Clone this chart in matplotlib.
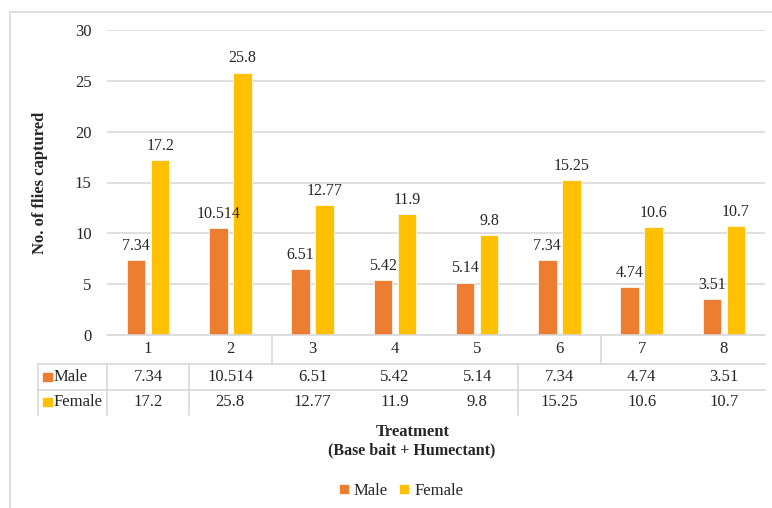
import matplotlib
matplotlib.use("Agg")
import matplotlib.pyplot as plt
import matplotlib.transforms as mtransforms
from matplotlib.lines import Line2D
from matplotlib.patches import Rectangle
import numpy as np

plt.rcParams['font.family'] = ['Liberation Serif', 'DejaVu Serif']

categories = ["1", "2", "3", "4", "5", "6", "7", "8"]
male = [7.34, 10.514, 6.51, 5.42, 5.14, 7.34, 4.74, 3.51]
female = [17.2, 25.8, 12.77, 11.9, 9.8, 15.25, 10.6, 10.7]
series_names = ["Male", "Female"]
colors = ["#ED7D31", "#FFC000"]
yticks = [0, 5, 10, 15, 20, 25, 30]

W, H = 772, 508
fig = plt.figure(figsize=(W / 100, H / 100), dpi=100)
ax = fig.add_axes([107 / W, 1 - 335 / H, 658 / W, 305 / H])

x = np.arange(len(categories))
bw = 0.225
off = 0.146
grid_c = "#D9D9D9"
fs = 12
tc = "#262626"

bars_m = ax.bar(x - off, male, bw, color=colors[0], edgecolor="white", linewidth=0.5, zorder=3, label=series_names[0])
bars_f = ax.bar(x + off, female, bw, color=colors[1], edgecolor="white", linewidth=0.5, zorder=3, label=series_names[1])

for bars, vals in ((bars_m, male), (bars_f, female)):
    for b, v in zip(bars, vals):
        ax.annotate(str(v), (b.get_x() + b.get_width() / 2, v), xytext=(0, 4.5),
                    textcoords="offset points", ha="center", va="bottom",
                    fontsize=11.5, color=tc)

ax.set_xlim(-0.5, len(categories) - 0.5)
ax.set_ylim(0, 30)
ax.set_yticks(yticks)
ax.set_yticklabels([str(t) for t in yticks], fontsize=fs, color=tc)
ax.tick_params(axis="y", length=0, pad=11)
ax.set_xticks([])
ax.yaxis.grid(True, color=grid_c, linewidth=1.2)
ax.set_axisbelow(True)
for s in ["top", "right", "left"]:
    ax.spines[s].set_visible(False)
ax.spines["bottom"].set_color(grid_c)
ax.spines["bottom"].set_linewidth(1.2)
ax.spines["bottom"].set_zorder(4)

# Data table below the axis
tr = mtransforms.blended_transform_factory(ax.transData, ax.transAxes)
def ay(ypx):
    return (335 - ypx) / 305.0

px_per_unit = 658 / len(categories)
def dx(xpx):
    return (xpx - 107) / px_per_unit - 0.5

y_head, y_m, y_f = ay(349), ay(377), ay(402)
for i, c in enumerate(categories):
    ax.text(x[i], y_head, c, transform=tr, ha="center", va="center", fontsize=fs, color=tc, clip_on=False)
    ax.text(x[i], y_m, str(male[i]), transform=tr, ha="center", va="center", fontsize=fs, color=tc, clip_on=False)
    ax.text(x[i], y_f, str(female[i]), transform=tr, ha="center", va="center", fontsize=fs, color=tc, clip_on=False)

line_kw = dict(transform=tr, color=grid_c, linewidth=1.2, clip_on=False)
for ypx in (364, 390):
    ax.add_line(Line2D([dx(38), len(categories) - 0.5], [ay(ypx), ay(ypx)], **line_kw))
# vertical lines in the data rows
for xv in (dx(38), -0.5, 0.5, 4.5):
    ax.add_line(Line2D([xv, xv], [ay(364), ay(415)], **line_kw))
# vertical lines in the header row
for xv in (1.5, 5.5):
    ax.add_line(Line2D([xv, xv], [ay(335), ay(364)], **line_kw))

# legend keys within the table
for name, col, yy in ((series_names[0], colors[0], y_m), (series_names[1], colors[1], y_f)):
    ax.add_patch(Rectangle((dx(43), yy - 0.014), dx(52) - dx(43), 0.028, transform=tr,
                           color=col, clip_on=False))
    ax.text(dx(54), yy, name, transform=tr, ha="left", va="center", fontsize=fs,
            color=tc, clip_on=False)

# axis titles
fig.text(413 / W, 1 - 432 / H, "Treatment", ha="center", va="center", fontsize=fs, fontweight="bold", color=tc)
fig.text(412 / W, 1 - 450 / H, "(Base bait + Humectant)", ha="center", va="center", fontsize=11.5, fontweight="bold", color=tc)
fig.text(40 / W, 1 - 183 / H, "No. of flies captured", ha="center", va="center", rotation=90, fontsize=fs, fontweight="bold", color=tc)

# bottom legend
leg = fig.legend(handles=[bars_m, bars_f], labels=series_names, loc="center", bbox_to_anchor=(401 / W, 1 - 491 / H),
                 ncol=2, frameon=False, fontsize=fs, handlelength=0.6, handleheight=0.6, handletextpad=0.3,
                 columnspacing=0.7)
for t in leg.get_texts():
    t.set_color(tc)

# outer border
fig.add_artist(Line2D([10 / W, 10 / W], [0, 1 - 12 / H], transform=fig.transFigure, color=grid_c, linewidth=1.2))
fig.add_artist(Line2D([10 / W, 1], [1 - 12 / H, 1 - 12 / H], transform=fig.transFigure, color=grid_c, linewidth=1.2))

fig.savefig("out.png", dpi=100, facecolor="white")
